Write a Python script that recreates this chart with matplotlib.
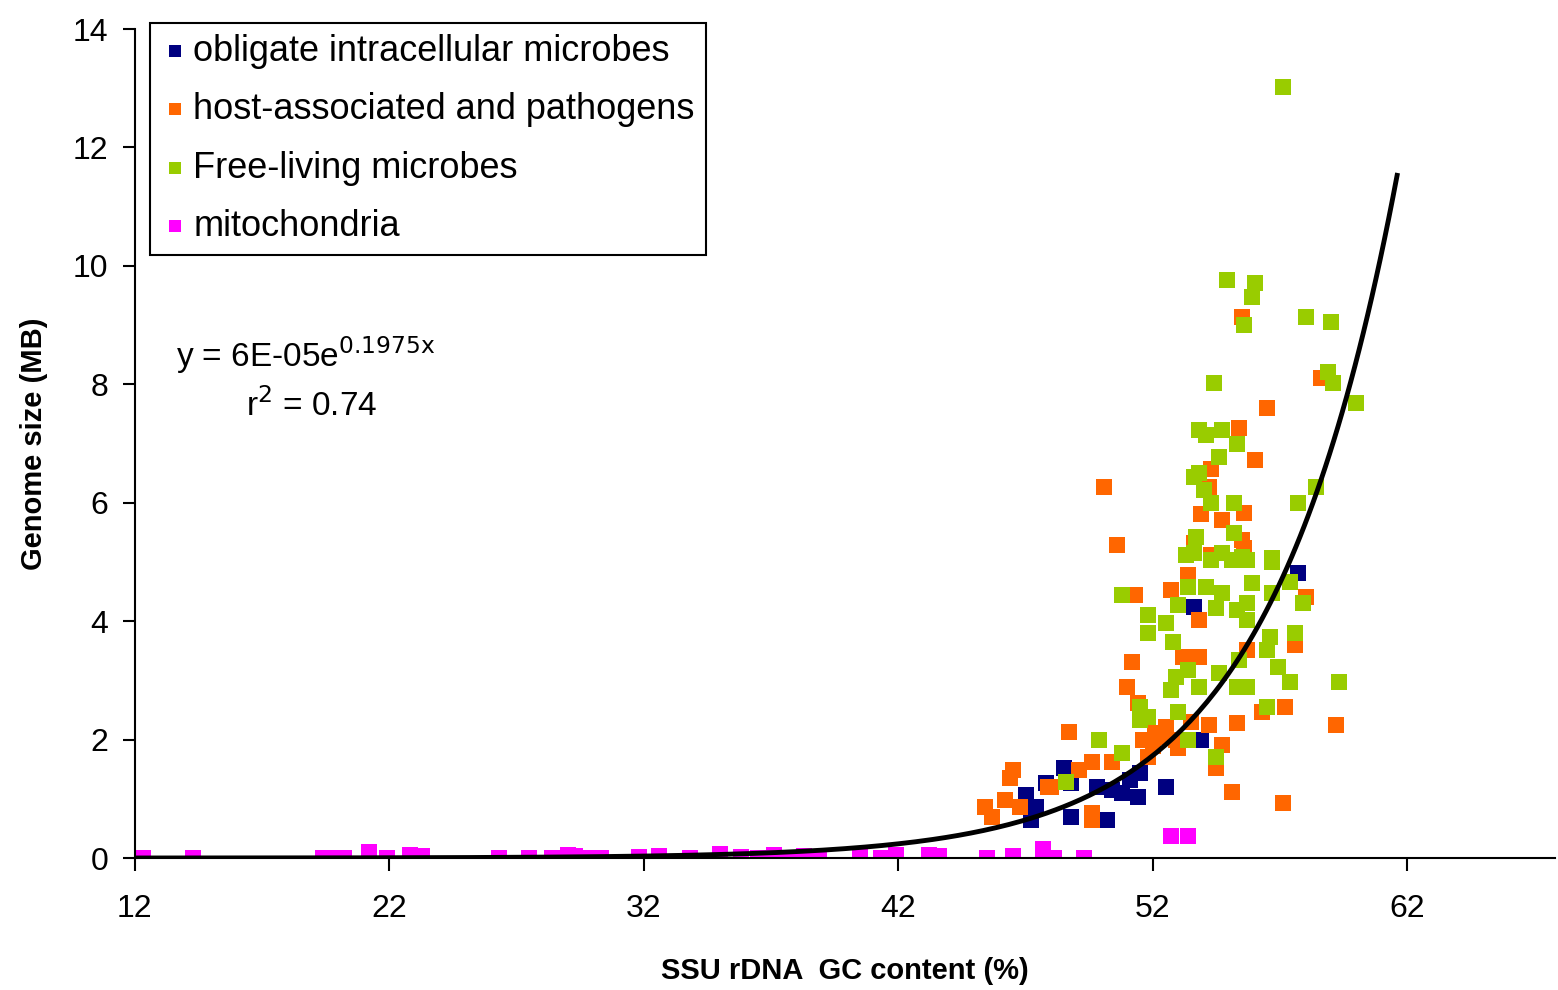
import numpy as np
import matplotlib
matplotlib.use("Agg")
import matplotlib.pyplot as plt

plt.rcParams['font.family'] = ['Liberation Sans', 'DejaVu Sans']

# obligate intracellular microbes
obl_x = [57.7, 53.6, 53.9, 48.5, 47.8, 48.8, 47.0, 47.4, 47.2, 48.8, 50.2, 49.8,
         50.4, 51.1, 51.4, 51.5, 52.5, 50.8]
obl_y = [4.81, 4.24, 2.0, 1.52, 1.27, 1.27, 1.06, 0.86, 0.64, 0.69, 0.64, 1.2,
         1.15, 1.32, 1.03, 1.43, 1.2, 1.1]

# host-associated and pathogens
host_x = [55.5, 58.6, 56.5, 55.4, 56.0, 54.3, 50.1, 54.2, 53.9, 54.7, 55.6, 50.6,
          55.5, 53.6, 58.0, 53.8, 52.7, 51.3, 51.2, 51.0, 53.2, 53.8, 57.6, 55.7,
          48.7, 51.4, 51.6, 52.1, 52.5, 52.9, 51.8, 54.2, 55.3, 56.3, 57.2, 59.2,
          54.7, 54.5, 55.1, 57.1, 49.6, 50.4, 49.1, 46.5, 46.4, 47.9, 46.2, 45.4,
          45.7, 46.8, 49.6, 49.6, 48.0, 53.4, 54.3, 55.6, 52.0, 52.3, 53.0, 53.5]
host_y = [9.14, 8.1, 7.6, 7.26, 6.72, 6.57, 6.27, 6.27, 5.81, 5.71, 5.83, 5.29,
          5.37, 5.32, 4.41, 4.02, 4.53, 4.44, 3.31, 2.89, 3.39, 3.39, 3.6, 3.51,
          2.13, 2.62, 2.0, 2.11, 2.21, 2.0, 1.71, 2.25, 2.28, 2.47, 2.55, 2.25,
          1.91, 1.52, 1.11, 0.93, 1.62, 1.62, 1.49, 1.49, 1.35, 1.2, 0.98, 0.86,
          0.69, 0.86, 0.76, 0.64, 1.2, 4.78, 5.12, 5.24, 1.9, 2.05, 1.85, 2.3]

# free-living microbes
free_x = [54.9, 56.0, 55.9, 55.6, 58.0, 59.0, 58.9, 59.1, 60.0, 54.4, 53.8, 54.1,
          54.7, 55.3, 54.6, 53.6, 53.8, 54.0, 54.3, 55.2, 58.4, 57.7, 53.7, 55.2,
          53.6, 54.7, 55.5, 56.7, 53.3, 56.7, 54.3, 55.1, 55.7, 57.4, 57.9, 53.4,
          54.1, 54.7, 55.9, 55.7, 53.0, 54.5, 55.3, 56.7, 50.8, 51.8, 51.8, 52.5,
          52.8, 55.7, 56.6, 57.6, 56.5, 56.9, 55.4, 54.6, 52.9, 53.4, 52.7, 53.8,
          55.7, 55.3, 57.4, 59.3, 51.5, 51.8, 53.0, 56.5, 51.5, 49.9, 50.8, 53.4,
          54.5, 48.6, 57.1]
free_y = [9.76, 9.71, 9.47, 9.0, 9.14, 9.05, 8.2, 8.02, 7.68, 8.02, 7.23, 7.14,
          7.23, 7.0, 6.77, 6.43, 6.5, 6.22, 6.0, 6.0, 6.27, 6.0, 5.42, 5.49,
          5.15, 5.15, 5.08, 5.07, 5.12, 5.0, 5.03, 5.03, 5.03, 4.66, 4.3, 4.58,
          4.58, 4.47, 4.64, 4.3, 4.27, 4.22, 4.19, 4.47, 4.44, 4.1, 3.8, 3.97,
          3.65, 4.02, 3.73, 3.8, 3.51, 3.23, 3.34, 3.12, 3.06, 3.18, 2.84, 2.89,
          2.89, 2.89, 2.97, 2.97, 2.55, 2.38, 2.47, 2.55, 2.33, 2.0, 1.77, 2.0,
          1.71, 1.28, 13.02]

# mitochondria
mito_x = [12.3, 14.3, 19.4, 19.8, 20.2, 21.2, 21.9, 22.8, 23.3, 26.3, 27.5, 28.4,
          29.0, 29.3, 29.9, 30.3, 31.8, 32.6, 33.8, 35.0, 35.8, 36.5, 37.1, 37.7,
          38.3, 38.9, 40.5, 41.3, 41.9, 43.2, 43.6, 45.5, 46.5, 47.7, 48.1, 49.3,
          52.7, 53.4]
mito_y = [0.0, 0.0, 0.0, 0.0, 0.0, 0.1, 0.0, 0.05, 0.03, 0.0, 0.0, 0.0,
          0.05, 0.03, 0.0, 0.0, 0.02, 0.04, 0.0, 0.07, 0.02, 0.0, 0.05, 0.0,
          0.03, 0.02, 0.03, 0.0, 0.05, 0.05, 0.03, 0.0, 0.03, 0.15, 0.0, 0.0,
          0.37, 0.37]

# exponential trendline y = a*exp(b*x)
fit_a = 6e-05
fit_b = 0.1975
fit_range = (12, 61.6)

fig = plt.figure(figsize=(15.58, 9.9), dpi=100)
ax = fig.add_axes([0.0866, 0.1333, 0.9114, 0.8374])

ms = 125
ax.scatter(obl_x, obl_y, marker='s', s=ms, color='#000080', linewidths=0,
           label='obligate intracellular microbes', zorder=2)
ax.scatter(host_x, host_y, marker='s', s=ms, color='#FF6600', linewidths=0,
           label='host-associated and pathogens', zorder=2)
ax.scatter(free_x, free_y, marker='s', s=ms, color='#99CC00', linewidths=0,
           label='Free-living microbes', zorder=2)
ax.scatter(mito_x, mito_y, marker='s', s=ms, color='#FF00FF', linewidths=0,
           label='mitochondria', zorder=2)

xf = np.linspace(fit_range[0], fit_range[1], 300)
ax.plot(xf, fit_a * np.exp(fit_b * xf), color='black', linewidth=3.5, zorder=3)

ax.set_xlim(12, 67.8)
ax.set_ylim(0, 14)
ax.set_xticks([12, 22, 32, 42, 52, 62])
ax.set_yticks(range(0, 15, 2))
ax.spines['top'].set_visible(False)
ax.spines['right'].set_visible(False)
for s in ['left', 'bottom']:
    ax.spines[s].set_linewidth(1.5)
ax.tick_params(direction='out', length=9, width=1.5, labelsize=23, pad=10)
ax.tick_params(axis='x', pad=17)

ax.set_xlabel('SSU rDNA  GC content (%)', fontsize=21, fontweight='bold', labelpad=24)
ax.set_ylabel('Genome size (MB)', fontsize=21, fontweight='bold', labelpad=18)

ax.text(0.029, 0.607, r'y = 6E-05e$^{\mathrm{0.1975x}}$', transform=ax.transAxes,
        fontsize=24, va='center', ha='left')
ax.text(0.078, 0.546, r'r$^{\mathrm{2}}$ = 0.74', transform=ax.transAxes,
        fontsize=24, va='center', ha='left')

leg = ax.legend(loc='upper left', bbox_to_anchor=(0.0106, 1.0072), fontsize=26,
                markerscale=0.75, handletextpad=0.1, handlelength=0.8,
                labelspacing=0.65, borderpad=0.3, borderaxespad=0, fancybox=False,
                framealpha=1, edgecolor='black', scatteryoffsets=[0.4])
leg.get_frame().set_linewidth(1.5)

fig.savefig('out.png', dpi=100, facecolor='white')
